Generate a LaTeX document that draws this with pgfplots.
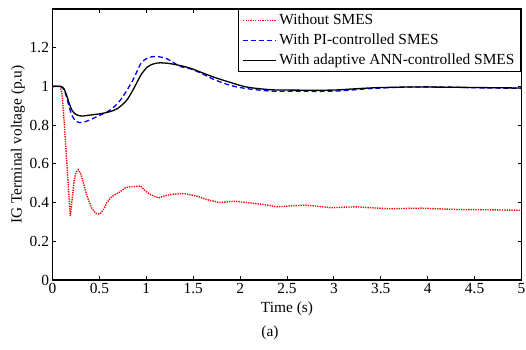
\documentclass[border=0pt]{standalone}
\usepackage{pgfplots}
\pgfplotsset{compat=1.18}
\usepackage{fontspec}
\setmainfont{Liberation Serif}
\newcommand{\ff}{\fontsize{15.4bp}{18bp}\selectfont}
\begin{document}
\begin{tikzpicture}
\path[use as bounding box] (0bp,0bp) rectangle (526bp,350bp);
\begin{axis}[
  at={(52.5bp,70bp)}, anchor=south west,
  scale only axis, width=469bp, height=271bp,
  xmin=0, xmax=5, ymin=0, ymax=1.4,
  xtick={0,0.5,...,5}, ytick={0,0.2,0.4,0.6,0.8,1,1.2},
  xticklabels={0,0.5,1,1.5,2,2.5,3,3.5,4,4.5,5},
  yticklabels={0,0.2,0.4,0.6,0.8,1,1.2},
  /pgf/number format/assume math mode=true,
  tick label style={font=\ff},
  label style={font=\ff},
  axis line style={line width=1.3bp},
  tick style={line width=0.9bp, black},
  major tick length=4bp,
  tick align=inside,
  xlabel={Time (s)},
  ylabel={IG Terminal voltage (p.u)},
  xlabel style={yshift=-1bp},
  ylabel style={yshift=-2bp},
  legend cell align=left,
  legend image code/.code={\draw[#1] (0bp,0bp) -- (33bp,0bp);},
  legend style={at={(rel axis cs:1,1)}, anchor=north east, draw=black,
    line width=1.2bp, font=\ff, inner xsep=4bp, inner ysep=1bp,
    nodes={inner sep=2.5bp, text height=11bp, text depth=4bp}},
]
\addplot[color=red, draw=red, line width=1.4bp, dash pattern=on 1.3bp off 1.1bp] coordinates {
(0,1.0) (0.08,1.0) (0.1,0.97) (0.12,0.85) (0.14,0.70) (0.16,0.55) (0.18,0.40) (0.19,0.33)
(0.21,0.42) (0.23,0.51) (0.25,0.555) (0.276,0.57) (0.30,0.55) (0.33,0.50) (0.37,0.43)
(0.42,0.37) (0.46,0.345) (0.50,0.34) (0.54,0.36) (0.58,0.40) (0.63,0.43) (0.68,0.445)
(0.72,0.455) (0.78,0.478) (0.85,0.482) (0.94,0.485) (0.99,0.46) (1.05,0.44) (1.13,0.424)
(1.2,0.435) (1.28,0.443) (1.40,0.447) (1.54,0.433) (1.65,0.415) (1.78,0.40) (1.94,0.407)
(2.11,0.398) (2.25,0.39) (2.40,0.378) (2.55,0.383) (2.70,0.387) (2.85,0.38) (2.97,0.373)
(3.1,0.376) (3.24,0.378) (3.4,0.373) (3.61,0.368) (3.8,0.37) (3.93,0.371) (4.1,0.368)
(4.33,0.364) (4.6,0.363) (4.9,0.361) (5.0,0.36)};
\addlegendentry{Without SMES}
\addplot[color=blue, draw=blue, line width=1.3bp, dash pattern=on 5bp off 3bp, smooth] coordinates {
(0,1.0) (0.09,1.0) (0.12,0.985) (0.15,0.945) (0.18,0.89) (0.21,0.848) (0.25,0.82)
(0.29,0.813) (0.35,0.818) (0.42,0.832) (0.51,0.852) (0.58,0.868) (0.62,0.88) (0.69,0.91)
(0.76,0.954) (0.865,1.04) (0.94,1.117) (1.01,1.146) (1.10,1.155) (1.22,1.143) (1.36,1.103)
(1.47,1.091) (1.6,1.065) (1.72,1.036) (1.9,1.005) (2.08,0.988) (2.33,0.976) (2.54,0.975)
(2.97,0.975) (3.2,0.982) (3.43,0.99) (3.8,0.997) (4.2,0.997) (4.5,0.993) (5,0.99)};
\addlegendentry{With PI-controlled SMES}
\addplot[color=black, draw=black, line width=1.3bp, smooth] coordinates {
(0,1.0) (0.09,1.0) (0.12,0.99) (0.15,0.955) (0.18,0.91) (0.21,0.875) (0.25,0.855)
(0.31,0.847) (0.4,0.852) (0.51,0.859) (0.6,0.868) (0.69,0.885) (0.79,0.928) (0.865,0.988)
(0.94,1.057) (1.01,1.10) (1.08,1.117) (1.15,1.122) (1.25,1.118) (1.36,1.108) (1.47,1.094)
(1.6,1.07) (1.72,1.048) (1.9,1.02) (2.08,0.996) (2.33,0.983) (2.54,0.981) (2.97,0.981)
(3.2,0.987) (3.43,0.993) (3.8,0.997) (4.2,0.996) (4.76,0.993) (5,0.992)};
\addlegendentry{With adaptive ANN-controlled SMES}
\end{axis}
\node[font=\ff] at (270bp,17bp) {(a)};
\end{tikzpicture}
\end{document}
